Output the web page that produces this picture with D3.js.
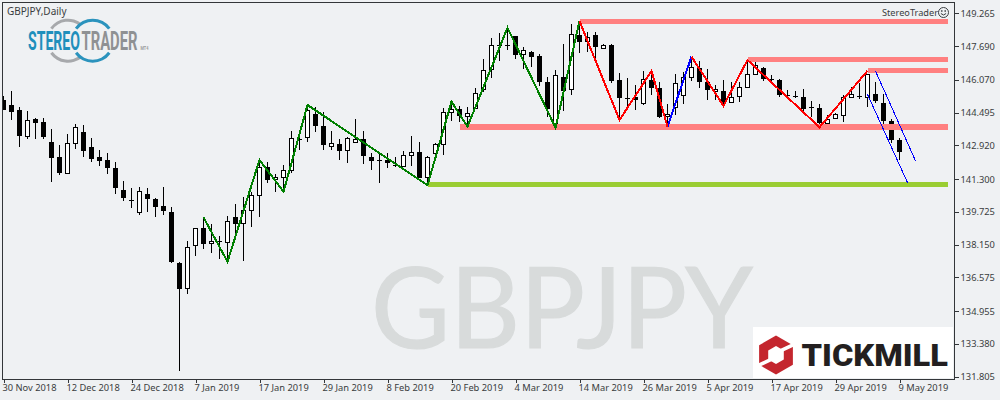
<!DOCTYPE html>
<html><head><meta charset="utf-8">
<script src="https://cdn.jsdelivr.net/npm/d3@7"></script>
<style>html,body{margin:0;padding:0;background:#eff1f3;overflow:hidden}svg{display:block}</style>
</head><body><svg id="c" width="1000" height="400"></svg>
<script>
const symbolName = "GBPJPY";
const timeframe = "GBPJPY,Daily";
const highs = [145.29,145.53,144.75,144.57,144.22,144.23,143.71,142.94,143.47,143.95,143.90,143.27,142.70,142.55,142.12,141.21,140.87,140.92,140.87,140.38,140.92,139.96,137.31,138.32,138.95,139.46,139.13,138.56,139.53,140.10,140.42,140.69,142.22,142.12,141.54,141.98,143.60,143.42,144.81,144.75,144.51,143.60,143.22,143.34,144.19,143.61,142.54,142.61,142.54,142.37,142.65,143.37,143.07,142.41,143.02,144.70,145.02,144.81,144.75,145.66,147.05,148.06,148.30,148.56,148.17,147.66,147.45,147.29,146.19,146.54,147.79,148.75,148.81,148.38,148.38,147.79,147.79,146.38,146.14,145.80,146.49,146.30,145.95,144.89,146.35,146.44,147.18,146.97,146.59,145.82,146.06,145.95,145.96,147.02,147.02,146.70,146.30,146.11,145.58,145.53,145.63,145.05,144.91,144.38,144.49,145.34,145.71,145.93,146.35,145.95,145.37,144.19,143.27];
const lows = [144.62,144.14,142.85,143.24,143.24,143.24,141.17,141.51,141.53,142.76,142.37,142.12,141.94,141.56,140.60,140.26,139.92,139.57,139.73,139.49,139.59,137.28,132.09,135.79,137.62,137.95,137.76,137.47,137.33,138.69,137.38,139.01,139.49,141.10,140.69,140.77,141.60,142.70,143.10,143.58,142.70,142.71,142.22,142.09,143.05,142.04,141.75,141.13,141.85,141.86,141.89,141.94,141.34,141.01,142.52,142.46,144.10,144.06,143.82,144.65,145.50,146.17,146.99,147.50,147.07,146.59,146.70,145.77,144.30,143.90,144.57,145.34,147.37,147.42,147.02,147.54,145.90,144.17,144.62,144.62,144.84,145.34,144.25,143.82,144.38,144.91,146.01,145.69,145.11,145.10,144.78,144.94,145.02,145.69,146.31,146.01,145.98,145.23,145.18,145.18,144.54,144.30,143.79,143.74,144.17,144.03,145.21,145.15,144.78,144.94,143.85,143.02,142.22];
const opens = [145.10,144.86,144.62,143.34,144.19,144.04,143.08,142.36,141.53,143.00,143.56,142.84,142.36,142.22,141.83,140.77,140.29,139.68,140.58,140.33,140.00,139.72,137.25,136.00,138.07,138.95,138.19,138.31,138.24,139.48,139.16,139.75,140.50,141.87,141.24,141.37,141.70,143.21,143.26,144.43,143.84,142.83,142.99,142.67,143.05,143.21,142.36,142.20,142.22,141.98,141.89,142.42,142.59,141.37,142.52,142.92,144.46,144.65,144.27,144.65,145.57,146.53,147.74,147.74,148.16,147.25,147.39,147.21,145.95,143.90,146.19,145.57,148.22,147.87,148.21,147.54,147.73,146.06,145.20,145.26,144.92,146.06,145.66,144.27,144.70,145.29,146.17,146.65,145.96,145.50,145.53,144.94,145.23,145.69,146.31,146.64,146.09,146.05,145.34,145.28,145.23,144.75,144.71,143.93,144.17,144.34,145.21,145.31,145.21,145.39,144.95,144.09,143.16];
const closes = [144.64,144.52,143.38,144.14,144.01,143.34,142.33,141.61,143.02,143.79,142.66,142.28,142.17,141.85,140.89,140.41,140.26,140.71,140.36,139.97,139.76,137.31,136.03,138.02,138.93,138.19,138.31,138.26,139.27,139.14,139.80,140.52,141.87,141.27,141.38,141.72,143.26,143.18,144.62,143.86,142.95,143.02,142.66,143.26,143.21,142.42,142.17,142.18,142.09,141.95,142.44,142.59,141.37,142.34,142.97,144.51,144.65,144.34,144.46,145.42,146.53,147.73,147.69,147.72,147.27,147.49,147.18,145.98,144.65,146.29,145.55,148.26,147.90,148.11,147.66,147.76,146.03,145.21,145.17,145.11,146.09,145.68,144.30,144.44,145.90,146.19,146.67,145.98,145.58,145.63,144.99,145.23,145.71,146.33,146.77,146.12,146.07,145.34,145.31,145.25,144.67,144.70,144.01,144.17,144.41,145.26,145.37,145.28,146.33,145.05,144.10,143.18,142.61];
const dateLabels = ["30 Nov 2018","12 Dec 2018","24 Dec 2018","7 Jan 2019","17 Jan 2019","29 Jan 2019","8 Feb 2019","20 Feb 2019","4 Mar 2019","14 Mar 2019","26 Mar 2019","5 Apr 2019","17 Apr 2019","29 Apr 2019","9 May 2019"];
const dateTickStep = 8;
const priceTicks = [149.265,147.690,146.070,144.495,142.920,141.300,139.725,138.150,136.575,134.955,133.380,131.805];
const greenZigIdx = [25,28,32,35,38,53,56,58,63,69,72];
const greenZigPrice = [139.46,137.33,142.22,140.69,144.86,141.00,145.02,143.82,148.57,143.77,148.89];
const redZig1Idx = [72,77,81,83];
const redZig1Price = [148.89,144.14,146.49,143.82];
const blueZigIdx = [83,86];
const blueZigPrice = [143.82,147.18];
const redZig2Idx = [86,90,93,102,108];
const redZig2Price = [147.18,144.82,147.02,143.79,146.50];
const channelLowerIdx = [108,113];
const channelLowerPrice = [145.37,141.13];
const channelUpperIdx = [109,114];
const channelUpperPrice = [146.49,142.18];
const zoneStart = [72,93,108,57];
const zonePrice = [148.85,147.04,146.53,143.81];
const zoneWidth = [5,5,5,6];
const supportStart = 53;
const supportPrice = 141.04;
const zoneEndIdx = 118;

const svg = d3.select("#c");
const BG="#eff1f3", AX="#333639", TXT="#3a3d40";
const L=2.5,R=954.5,T=2.5,B=379;
const x = d3.scaleLinear().domain([0,112]).range([3.5,899.5]);
const y = d3.scaleLinear().domain([149.904-T/20.81,149.904-B/20.81]).range([T,B]);

svg.append("rect").attr("width",1000).attr("height",400).attr("fill",BG);
svg.append("defs").append("clipPath").attr("id","plot").append("rect").attr("x",3).attr("y",3).attr("width",951).attr("height",376);

// fit a text to a given width by scaling it horizontally around its start
function fitText(s,tx,ty,w){
  const nat=s.node().getComputedTextLength();
  s.attr("transform",`translate(${tx},${ty}) scale(${w/nat},1)`);
  return s;
}

// watermark
fitText(svg.append("text").text(symbolName).attr("font-family","Lato").attr("font-size",112)
  .attr("fill","#d8dbdb").attr("stroke","#d8dbdb").attr("stroke-width",1.2),371,348,382);

const plot = svg.append("g").attr("clip-path","url(#plot)");
const data = opens.map((o,i)=>({i,o,c:closes[i],h:highs[i],l:lows[i]}));
const px = v=>Math.round(v);
const cg = plot.append("g").attr("shape-rendering","crispEdges");
cg.selectAll("line.w").data(data).join("line").attr("class","w")
  .attr("x1",d=>x(d.i)).attr("x2",d=>x(d.i)).attr("y1",d=>px(y(d.h))).attr("y2",d=>px(y(d.l)))
  .attr("stroke","#000").attr("stroke-width",1);
cg.selectAll("rect.b").data(data).join("rect").attr("class","b")
  .each(function(d){
    const up=d.c>=d.o, t=px(y(Math.max(d.o,d.c))), b=px(y(Math.min(d.o,d.c)));
    const s=d3.select(this);
    if(up) s.attr("x",x(d.i)-2).attr("width",4).attr("y",t+.5).attr("height",Math.max(b-t-1,1)).attr("fill","#fff").attr("stroke","#000");
    else s.attr("x",x(d.i)-2.5).attr("width",5).attr("y",t).attr("height",Math.max(b-t,1)).attr("fill","#000");
  });

// zones
function zone(s,p,w,col){
  plot.append("line").attr("x1",x(s)).attr("x2",x(zoneEndIdx)).attr("y1",y(p)).attr("y2",y(p))
    .attr("stroke",col).attr("stroke-width",w).attr("shape-rendering","crispEdges");
}
zoneStart.forEach((s,i)=>zone(s,zonePrice[i],zoneWidth[i],"#ff8080"));
zone(supportStart,supportPrice,5,"#9acd32");

// zigzags
const ln = d3.line().x(d=>x(d[0])).y(d=>y(d[1]));
function zig(ix,pr,col,w){
  plot.append("path").attr("d",ln(ix.map((v,k)=>[v,pr[k]]))).attr("fill","none").attr("stroke",col)
    .attr("stroke-width",w).attr("shape-rendering","crispEdges").attr("stroke-linejoin","miter");
}
zig(greenZigIdx,greenZigPrice,"#008000",2);
zig(blueZigIdx,blueZigPrice,"#0000ff",2);
zig(redZig1Idx,redZig1Price,"#ff0000",2);
zig(redZig2Idx,redZig2Price,"#ff0000",2);
zig(channelLowerIdx,channelLowerPrice,"#0000ff",1);
zig(channelUpperIdx,channelUpperPrice,"#0000ff",1);

// frame
const fg = svg.append("g").attr("stroke",AX).attr("shape-rendering","crispEdges");
fg.append("line").attr("x1",L).attr("x2",L).attr("y1",T-.5).attr("y2",B+.5);
fg.append("line").attr("x1",L).attr("x2",R).attr("y1",T).attr("y2",T);
fg.append("line").attr("x1",L).attr("x2",R).attr("y1",B).attr("y2",B);
fg.append("line").attr("x1",R).attr("x2",R).attr("y1",T-.5).attr("y2",B+.5);

const F="'Noto Sans'";
// axes
const tickIdx = dateLabels.map((_,k)=>k*dateTickStep);
const xAxis = d3.axisBottom(x).tickValues(tickIdx).tickFormat((d,k)=>dateLabels[k]).tickSize(4).tickPadding(3);
const gx = svg.append("g").attr("transform",`translate(0,${B})`).call(xAxis);
gx.select(".domain").remove();
gx.selectAll("line").attr("stroke",AX).attr("shape-rendering","crispEdges");
gx.selectAll("text").attr("text-anchor","start").attr("x",-1.5).attr("y",5.5).attr("dy","0.71em")
  .attr("font-family",F).attr("font-size",9.3).attr("fill",TXT);
const yAxis = d3.axisRight(y).tickValues(priceTicks).tickFormat(d3.format(".3f")).tickSize(4).tickPadding(2);
const gy = svg.append("g").attr("transform",`translate(${R},0)`).call(yAxis);
gy.select(".domain").remove();
gy.selectAll("line").attr("stroke",AX).attr("shape-rendering","crispEdges");
gy.selectAll("text").attr("x",6).attr("font-family",F).attr("font-size",9.3).attr("fill",TXT);

// labels
svg.append("text").text(timeframe).attr("x",7).attr("y",15).attr("font-family",F).attr("font-size",10).attr("fill",TXT);
svg.append("text").text("StereoTrader").attr("x",882).attr("y",16).attr("font-family",F).attr("font-size",9.2).attr("fill",TXT);
const sm = svg.append("g").attr("transform","translate(943.5,12.5)").attr("fill","none").attr("stroke",TXT);
sm.append("circle").attr("r",5);
sm.append("path").attr("d","M-2.6,1 Q0,4 2.6,1");
sm.append("circle").attr("cx",-1.7).attr("cy",-1.5).attr("r",.5);
sm.append("circle").attr("cx",1.7).attr("cy",-1.5).attr("r",.5);

// StereoTrader logo
const arc = d3.arc();
function ring(cx,col,r,a1,a2,a3,a4){
  const g=svg.append("g").attr("transform",`translate(${cx},40.7)`);
  [[a1,a2],[a3,a4]].forEach(a=>{
    g.append("path").attr("d",arc({innerRadius:r-3,outerRadius:r,startAngle:a[0]*Math.PI,endAngle:a[1]*Math.PI})).attr("fill",col);
  });
}
ring(68,"#a7a9ac",22,-0.3,0.22,0.78,1.3);
ring(92.7,"#2b93bd",22,-0.3,0.3,0.7,1.3);
const lf="Roboto";
const logoText=(t,size,col)=>svg.append("text").text(t).attr("font-family",lf).attr("font-weight",700).attr("font-size",size).attr("fill",col);
fitText(logoText("STEREO",25,"#1f8fbc"),28,50,52);
fitText(logoText("TRADER",25,"#8f9193"),81.5,50,56);
fitText(logoText("MT4",5,"#9a9c9e"),140.5,50,8);

// Tickmill logo
svg.append("rect").attr("x",753).attr("y",327).attr("width",200).attr("height",51).attr("fill","#fff");
const hex=(cx,cy,r)=>d3.range(6).map(k=>{const a=Math.PI/3*k;return [cx+r*Math.sin(a),cy-r*Math.cos(a)];});
const hl=d3.line().curve(d3.curveLinearClosed);
svg.append("path").attr("d",hl(hex(776,355,19.5))).attr("fill","#c4262e");
svg.append("path").attr("d",hl(hex(776,355,9))).attr("fill","#fff");
svg.append("path").attr("d","M757,364 L772,357 L772,361 L757,368 Z M795,346 L780,353 L780,349 L795,342 Z").attr("fill","#fff");
fitText(svg.append("text").text("TICKMILL").attr("font-family","Roboto").attr("font-weight",900).attr("font-size",32).attr("fill","#231f20"),801.5,366,146.5);
</script></body></html>
